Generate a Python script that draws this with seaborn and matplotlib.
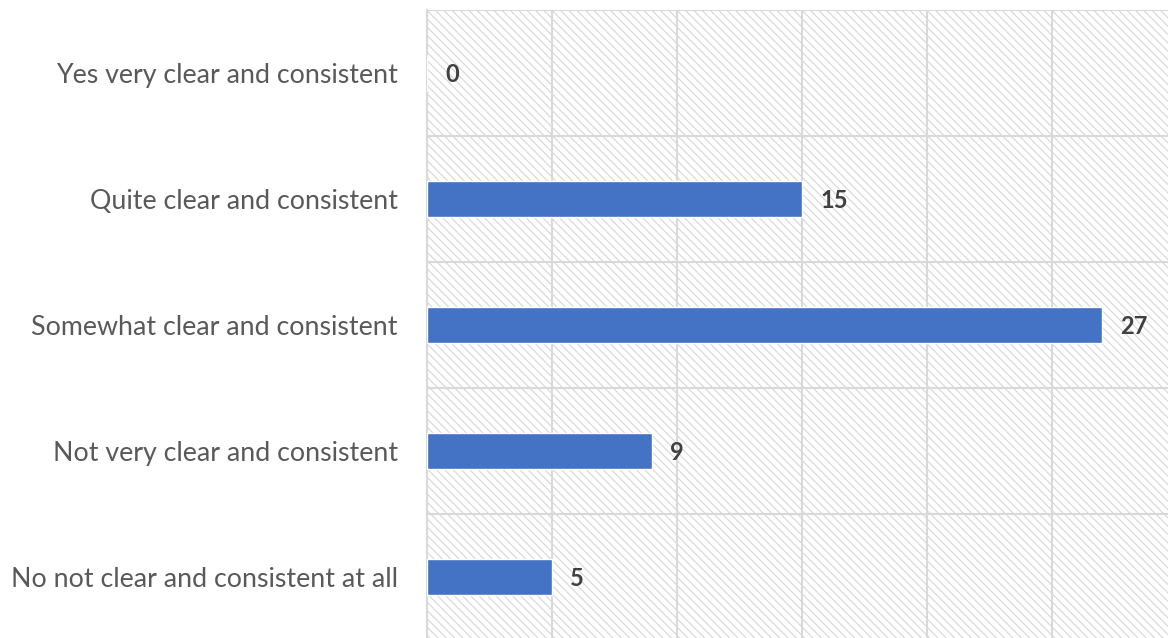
import matplotlib
matplotlib.use("Agg")
import matplotlib.pyplot as plt
import matplotlib.patches as mpatches
import numpy as np
import pandas as pd
import seaborn as sns

sns.set_style("white")
plt.rcParams["font.family"] = ["Lato", "DejaVu Sans"]
plt.rcParams["hatch.color"] = "#d6d6d6"
plt.rcParams["hatch.linewidth"] = 0.8

categories = ["Yes very clear and consistent",
              "Quite clear and consistent",
              "Somewhat clear and consistent",
              "Not very clear and consistent",
              "No not clear and consistent at all"]
counts = [0, 15, 27, 9, 5]

df = pd.DataFrame({"answer": categories, "count": counts})

fig = plt.figure(figsize=(11.68, 6.38), dpi=100)
ax = fig.add_axes([427 / 1168, -2 / 638, 750 / 1168, 630 / 638])

# hatched plot area like the excel chart
bg = mpatches.Rectangle((0, 0), 1, 1, transform=ax.transAxes, facecolor="white",
                        hatch="\\\\\\\\", edgecolor="#d6d6d6", linewidth=0, zorder=0)
ax.add_patch(bg)

sns.barplot(data=df, x="count", y="answer", order=categories, orient="h",
            color="#4472C4", width=0.29, saturation=1, ax=ax, zorder=3)

for i, v in enumerate(counts):
    ax.annotate(str(v), xy=(v, i), xytext=(13, 0), textcoords="offset points",
                ha="left", va="center_baseline", fontsize=17, fontweight="bold", color="#404040")

ax.set_xlim(0, 30)
ax.set_ylim(len(categories) - 0.5, -0.5)
ax.set_xticks(np.arange(0, 31, 5))
ax.set_yticks(np.arange(-0.5, len(categories), 1), minor=True)
ax.grid(axis="x", which="major", color="#d9d9d9", linewidth=1.5, zorder=1)
ax.grid(axis="y", which="minor", color="#d9d9d9", linewidth=1.5, zorder=1)
ax.set_axisbelow(True)
ax.tick_params(axis="x", labelbottom=False, length=0)
ax.tick_params(axis="y", which="both", length=0, pad=21, labelsize=19.3, labelcolor="#595959")
ax.set_xlabel(None)
ax.set_ylabel(None)
for s in ["top", "right", "bottom"]:
    ax.spines[s].set_visible(False)
ax.spines["left"].set_color("#d9d9d9")
ax.spines["left"].set_linewidth(1.5)

fig.savefig("out.png", dpi=100)
